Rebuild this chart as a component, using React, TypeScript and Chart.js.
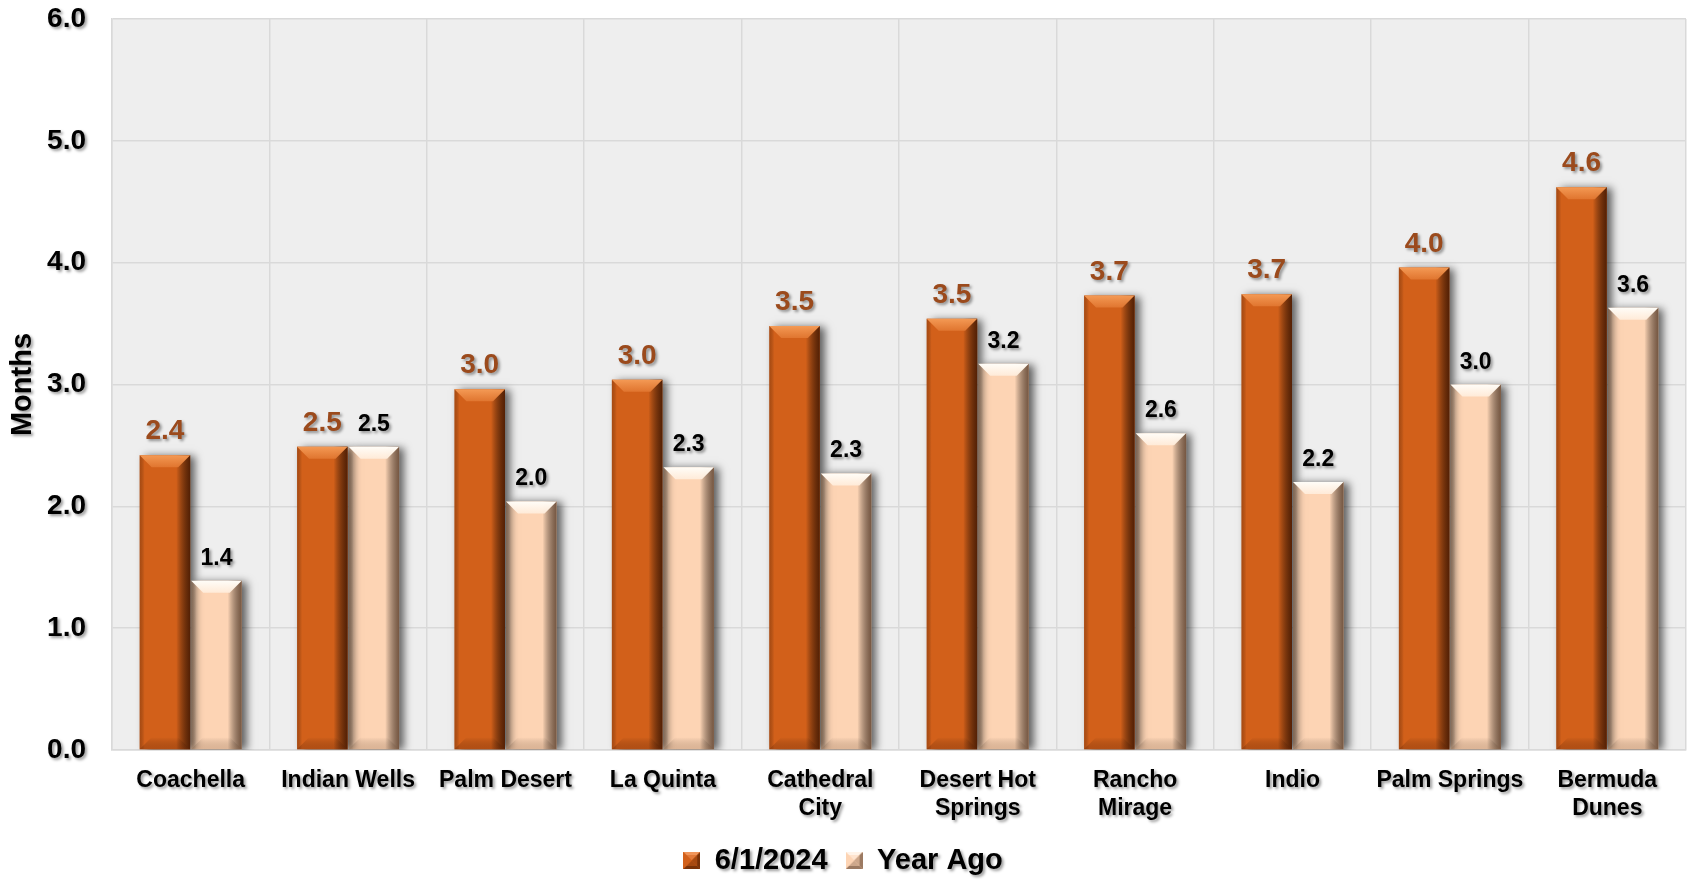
import React, { useEffect, useRef } from 'react';
import { Chart, registerables } from 'chart.js';

Chart.register(...registerables);

const categories: (string | string[])[] = [
  'Coachella',
  'Indian Wells',
  'Palm Desert',
  'La Quinta',
  ['Cathedral', 'City'],
  ['Desert Hot', 'Springs'],
  ['Rancho', 'Mirage'],
  'Indio',
  'Palm Springs',
  ['Bermuda', 'Dunes'],
];

const currentLabel = '6/1/2024';
const yearAgoLabel = 'Year Ago';

const currentValues = [2.42, 2.49, 2.96, 3.04, 3.48, 3.54, 3.73, 3.74, 3.96, 4.62];
const yearAgoValues = [1.39, 2.49, 2.04, 2.32, 2.27, 3.17, 2.6, 2.2, 3.0, 3.63];

const yTicks = [0, 1, 2, 3, 4, 5, 6];
const yTitle = 'Months';

const FONT = "'Liberation Sans', Arial, Helvetica, sans-serif";
const ORANGE = '#D2601A';
const PEACH = '#FDD4B4';

const bevelStyles = [
  {
    edge: 'rgba(70,25,2,0.9)',
    leftEdge: 'rgba(90,35,5,0.35)',
    top1: '#F49A55',
    top2: 'rgba(226,120,50,0.9)',
    bottom: 'rgba(120,45,8,0.35)',
    label: '#9B4A1C',
    labelSize: 28,
    base: ORANGE,
    light: '#F0955A',
    dark: '#7A3208',
  },
  {
    edge: 'rgba(95,65,45,0.85)',
    leftEdge: 'rgba(140,100,70,0.25)',
    top1: '#FFFDF8',
    top2: 'rgba(255,236,218,0.95)',
    bottom: 'rgba(150,110,80,0.3)',
    label: '#000000',
    labelSize: 23,
    base: PEACH,
    light: '#FFF3E8',
    dark: '#9C7A62',
  },
];

function makeLegendIcon(st: any): HTMLCanvasElement {
  const s = 17;
  const c = document.createElement('canvas');
  c.width = s;
  c.height = s;
  const g = c.getContext('2d')!;
  const m = s / 2;
  const tri = (pts: number[][], color: string) => {
    g.beginPath();
    g.moveTo(pts[0][0], pts[0][1]);
    for (let i = 1; i < pts.length; i++) g.lineTo(pts[i][0], pts[i][1]);
    g.closePath();
    g.fillStyle = color;
    g.fill();
  };
  g.fillStyle = st.base;
  g.fillRect(0, 0, s, s);
  tri([[0, 0], [s, 0], [m, m]], st.light);
  tri([[s, 0], [s, s], [m, m]], st.dark);
  tri([[0, s], [s, s], [m, m]], st.dark);
  tri([[0, 0], [0, s], [m, m]], st.base);
  g.globalAlpha = 0.5;
  g.fillStyle = st.base;
  g.fillRect(3, 3, s - 6, s - 6);
  return c;
}

const textShadowPlugin = {
  id: 'textShadow',
  beforeInit(chart: any) {
    const ctx = chart.ctx;
    if (ctx.__shadowPatched) return;
    const orig = ctx.fillText;
    ctx.fillText = function (...args: any[]) {
      ctx.save();
      ctx.shadowColor = 'rgba(0,0,0,0.4)';
      ctx.shadowOffsetX = 2;
      ctx.shadowOffsetY = 2;
      ctx.shadowBlur = 3;
      orig.apply(ctx, args);
      ctx.restore();
    };
    ctx.__shadowPatched = true;
  },
};

const plotBgPlugin = {
  id: 'plotBg',
  beforeDraw(chart: any) {
    const { ctx, chartArea } = chart;
    if (!chartArea) return;
    ctx.save();
    ctx.fillStyle = '#EEEEEE';
    ctx.fillRect(chartArea.left, chartArea.top, chartArea.right - chartArea.left, chartArea.bottom - chartArea.top);
    ctx.restore();
  },
};

const barShadowPlugin = {
  id: 'barShadow',
  beforeDatasetDraw(chart: any) {
    const ctx = chart.ctx;
    ctx.save();
    ctx.shadowColor = 'rgba(0,0,0,0.6)';
    ctx.shadowOffsetX = 5;
    ctx.shadowOffsetY = 1;
    ctx.shadowBlur = 8;
  },
  afterDatasetDraw(chart: any) {
    chart.ctx.restore();
  },
};

const bevelPlugin = {
  id: 'bevel',
  afterDatasetsDraw(chart: any) {
    const ctx = chart.ctx;
    chart.data.datasets.forEach((ds: any, di: number) => {
      const meta = chart.getDatasetMeta(di);
      const st = bevelStyles[di];
      meta.data.forEach((el: any) => {
        const { x, y, base, width } = el.getProps(['x', 'y', 'base', 'width'], true);
        const l = x - width / 2;
        const r = x + width / 2;
        const t = Math.min(y, base);
        const b = Math.max(y, base);
        const bv = Math.min(12, (b - t) / 2);
        ctx.save();
        let g = ctx.createLinearGradient(r - 14, 0, r, 0);
        g.addColorStop(0, 'rgba(0,0,0,0)');
        g.addColorStop(1, st.edge);
        ctx.fillStyle = g;
        ctx.fillRect(r - 14, t, 14, b - t);
        g = ctx.createLinearGradient(l, 0, l + 5, 0);
        g.addColorStop(0, st.leftEdge);
        g.addColorStop(1, 'rgba(0,0,0,0)');
        ctx.fillStyle = g;
        ctx.fillRect(l, t, 5, b - t);
        ctx.beginPath();
        ctx.moveTo(l, t);
        ctx.lineTo(r, t);
        ctx.lineTo(r - bv, t + bv);
        ctx.lineTo(l + bv, t + bv);
        ctx.closePath();
        g = ctx.createLinearGradient(0, t, 0, t + bv);
        g.addColorStop(0, st.top1);
        g.addColorStop(1, st.top2);
        ctx.fillStyle = g;
        ctx.fill();
        ctx.beginPath();
        ctx.moveTo(l, b);
        ctx.lineTo(r, b);
        ctx.lineTo(r - bv, b - bv);
        ctx.lineTo(l + bv, b - bv);
        ctx.closePath();
        g = ctx.createLinearGradient(0, b - bv, 0, b);
        g.addColorStop(0, 'rgba(0,0,0,0)');
        g.addColorStop(1, st.bottom);
        ctx.fillStyle = g;
        ctx.fill();
        ctx.restore();
      });
    });
  },
};

const valueLabelPlugin = {
  id: 'valueLabels',
  afterDatasetsDraw(chart: any) {
    const ctx = chart.ctx;
    chart.data.datasets.forEach((ds: any, di: number) => {
      const meta = chart.getDatasetMeta(di);
      const st = bevelStyles[di];
      meta.data.forEach((el: any, i: number) => {
        const { x, y } = el.getProps(['x', 'y'], true);
        const v = ds.data[i] as number;
        ctx.save();
        ctx.font = `bold ${st.labelSize}px ${FONT}`;
        ctx.fillStyle = st.label;
        ctx.textAlign = 'center';
        ctx.textBaseline = 'alphabetic';
        ctx.fillText(v.toFixed(1), x, y - 16);
        ctx.restore();
      });
    });
  },
};

export default function App() {
  const canvasRef = useRef<HTMLCanvasElement | null>(null);

  useEffect(() => {
    document.body.style.margin = '0';
    const canvas = canvasRef.current;
    if (!canvas) return;
    const icons = bevelStyles.map((st) => makeLegendIcon(st));
    const chart = new Chart(canvas, {
      type: 'bar',
      data: {
        labels: categories,
        datasets: [
          {
            label: currentLabel,
            data: currentValues,
            backgroundColor: ORANGE,
            borderWidth: 0,
            categoryPercentage: 0.655,
            barPercentage: 0.98,
          },
          {
            label: yearAgoLabel,
            data: yearAgoValues,
            backgroundColor: PEACH,
            borderWidth: 0,
            categoryPercentage: 0.655,
            barPercentage: 0.98,
          },
        ],
      },
      options: {
        responsive: false,
        animation: false,
        devicePixelRatio: 1,
        layout: { padding: { top: 19, right: 4, left: 0, bottom: -3 } },
        plugins: {
          legend: {
            display: true,
            position: 'bottom',
            labels: {
              font: { family: FONT, size: 29, weight: 'bold' },
              color: '#000000',
              boxWidth: 17,
              boxHeight: 17,
              usePointStyle: true,
              pointStyleWidth: 17,
              padding: 18,
              generateLabels: (ch: any) => {
                const items = (Chart as any).defaults.plugins.legend.labels.generateLabels(ch);
                return items.map((it: any, i: number) => ({ ...it, pointStyle: icons[i], lineWidth: 0 }));
              },
            },
          },
          tooltip: { enabled: false },
          title: { display: false },
        },
        scales: {
          x: {
            grid: { color: '#D9D9D9', lineWidth: 1.5, drawTicks: false, offset: true },
            border: { color: '#D9D9D9', width: 1.5 },
            ticks: {
              autoSkip: false,
              maxRotation: 0,
              padding: 17,
              color: '#000000',
              font: { family: FONT, size: 23, weight: 'bold', lineHeight: 1.2 },
            },
            afterFit: (scale: any) => {
              scale.height = 78;
              scale.paddingLeft = 0;
              scale.paddingRight = 0;
            },
          },
          y: {
            min: 0,
            max: 6,
            afterBuildTicks: (scale: any) => {
              scale.ticks = yTicks.map((v) => ({ value: v }));
            },
            grid: { color: '#D9D9D9', lineWidth: 1.5, drawTicks: false },
            border: { color: '#D9D9D9', width: 1.5 },
            ticks: {
              padding: 26,
              color: '#000000',
              font: { family: FONT, size: 28, weight: 'bold' },
              callback: (v: any) => Number(v).toFixed(1),
            },
            title: {
              display: true,
              text: yTitle,
              color: '#000000',
              font: { family: FONT, size: 29, weight: 'bold' },
              padding: { top: 6, bottom: 0 },
            },
            afterFit: (scale: any) => {
              scale.width = 112;
              scale.paddingTop = 0;
              scale.paddingBottom = 0;
            },
          },
        },
      },
      plugins: [textShadowPlugin, plotBgPlugin, barShadowPlugin, bevelPlugin, valueLabelPlugin],
    } as any);
    return () => chart.destroy();
  }, []);

  return (
    <div style={{ width: 1690, height: 882 }}>
      <canvas ref={canvasRef} width={1690} height={882} style={{ display: 'block' }} />
    </div>
  );
}
